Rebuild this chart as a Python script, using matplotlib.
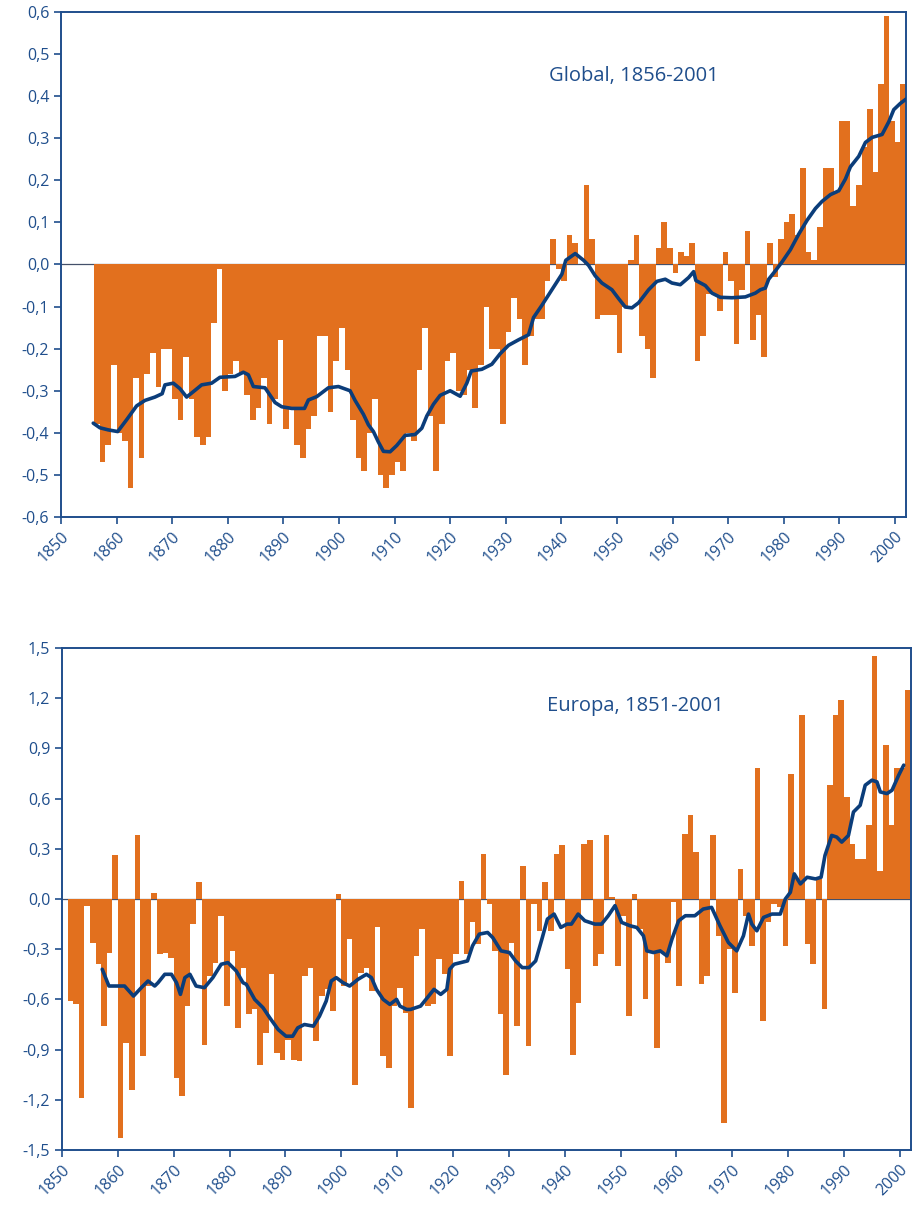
import matplotlib
matplotlib.use("Agg")
import matplotlib.pyplot as plt
import numpy as np

plt.rcParams['font.family'] = ['Open Sans', 'DejaVu Sans']

ORANGE = '#E2701E'
NAVY = '#0B3D7A'
BLUE = '#1F4E8C'

# ---- Global, 1856-2001 (anomaly, annual bars) ----
glob_years = list(range(1856, 2002))
glob_vals = [
    -0.38, -0.47, -0.43, -0.24, -0.40, -0.42, -0.53, -0.27, -0.46, -0.26,   # 1856-1865
    -0.21, -0.29, -0.20, -0.20, -0.32, -0.37, -0.22, -0.32, -0.41, -0.43,   # 1866-1875
    -0.41, -0.14, -0.01, -0.30, -0.26, -0.23, -0.26, -0.31, -0.37, -0.34,   # 1876-1885
    -0.27, -0.38, -0.32, -0.18, -0.39, -0.34, -0.43, -0.46, -0.39, -0.36,   # 1886-1895
    -0.17, -0.17, -0.35, -0.23, -0.15, -0.25, -0.37, -0.46, -0.49, -0.40,   # 1896-1905
    -0.32, -0.50, -0.53, -0.50, -0.47, -0.49, -0.40, -0.42, -0.25, -0.15,   # 1906-1915
    -0.36, -0.49, -0.38, -0.23, -0.21, -0.30, -0.31, -0.25, -0.34, -0.24,   # 1916-1925
    -0.10, -0.20, -0.20, -0.38, -0.16, -0.08, -0.13, -0.24, -0.17, -0.13,   # 1926-1935
    -0.13, -0.04, 0.06, -0.01, -0.04, 0.07, 0.05, 0.00, 0.19, 0.06,         # 1936-1945
    -0.13, -0.12, -0.12, -0.12, -0.21, -0.10, 0.01, 0.07, -0.17, -0.20,     # 1946-1955
    -0.27, 0.04, 0.10, 0.04, -0.02, 0.03, 0.02, 0.05, -0.23, -0.17,         # 1956-1965
    -0.07, -0.07, -0.11, 0.03, -0.04, -0.19, -0.06, 0.08, -0.18, -0.12,     # 1966-1975
    -0.22, 0.05, -0.03, 0.06, 0.10, 0.12, 0.07, 0.23, 0.03, 0.01,           # 1976-1985
    0.09, 0.23, 0.23, 0.17, 0.34, 0.34, 0.14, 0.19, 0.28, 0.37,             # 1986-1995
    0.22, 0.43, 0.59, 0.34, 0.29, 0.43,                                     # 1996-2001
]

# smoothed curve, read point by point
glob_line_x = [1855.8, 1857.0, 1858.5, 1860.2, 1861.8, 1863.6, 1865.1, 1866.9, 1868.2, 1868.7,
               1870.2, 1871.4, 1872.6, 1874.1, 1875.3, 1877.1, 1878.6, 1881.3, 1882.8, 1883.7,
               1884.6, 1886.7, 1888.5, 1889.7, 1891.5, 1893.8, 1894.5, 1896.0, 1898.1, 1899.9,
               1902.0, 1902.9, 1904.4, 1905.3, 1906.2, 1907.1, 1908.0, 1909.2, 1910.4, 1911.9,
               1913.7, 1914.9, 1915.8, 1917.0, 1918.2, 1920.0, 1921.8, 1923.0, 1923.8, 1925.7,
               1927.5, 1929.0, 1930.5, 1932.3, 1934.1, 1935.0, 1936.5, 1938.3, 1940.1, 1940.8,
               1942.5, 1944.0, 1944.9, 1946.1, 1947.3, 1949.1, 1950.3, 1951.5, 1952.7, 1953.9,
               1955.7, 1957.2, 1958.7, 1959.9, 1961.4, 1962.9, 1963.8, 1964.2, 1965.9, 1967.1,
               1968.6, 1970.7, 1973.1, 1974.9, 1975.8, 1976.7, 1977.3, 1978.5, 1979.7, 1981.2,
               1982.7, 1984.2, 1985.7, 1986.9, 1988.4, 1989.9, 1991.1, 1992.0, 1993.5, 1994.7,
               1995.9, 1997.7, 1998.9, 1999.8, 2001.0, 2002.0]
glob_line_y = [-0.377, -0.388, -0.393, -0.397, -0.369, -0.336, -0.323, -0.315, -0.307, -0.286,
               -0.282, -0.295, -0.315, -0.299, -0.286, -0.282, -0.268, -0.266, -0.256, -0.262,
               -0.290, -0.293, -0.328, -0.338, -0.342, -0.342, -0.322, -0.314, -0.293, -0.290,
               -0.300, -0.323, -0.356, -0.381, -0.397, -0.422, -0.444, -0.445, -0.430, -0.406,
               -0.404, -0.389, -0.360, -0.332, -0.311, -0.300, -0.313, -0.282, -0.253, -0.249,
               -0.237, -0.212, -0.192, -0.179, -0.167, -0.126, -0.097, -0.060, -0.023, 0.010,
               0.026, 0.010, -0.002, -0.027, -0.044, -0.060, -0.081, -0.101, -0.103, -0.091,
               -0.060, -0.040, -0.035, -0.044, -0.048, -0.031, -0.017, -0.038, -0.050, -0.068,
               -0.078, -0.079, -0.077, -0.068, -0.060, -0.056, -0.035, -0.015, 0.006, 0.035,
               0.072, 0.105, 0.133, 0.150, 0.166, 0.175, 0.203, 0.232, 0.257, 0.290,
               0.302, 0.309, 0.339, 0.368, 0.383, 0.393]

# ---- Europa, 1851-2001 ----
eur_years = list(range(1851, 2002))
eur_vals = [
    -0.61, -0.63, -1.19, -0.04, -0.26, -0.39, -0.76, -0.32, 0.26,          # 1851-1859
    -1.43, -0.86, -1.14, 0.38, -0.94, -0.52, 0.035, -0.33, -0.32, -0.35,    # 1860-1869
    -1.07, -1.18, -0.64, -0.15, 0.10, -0.87, -0.46, -0.38, -0.10, -0.64,    # 1870-1879
    -0.31, -0.77, -0.41, -0.69, -0.66, -0.99, -0.80, -0.45, -0.92, -0.96,   # 1880-1889
    -0.84, -0.96, -0.97, -0.46, -0.41, -0.85, -0.58, -0.54, -0.67, 0.03,    # 1890-1899
    -0.52, -0.24, -1.11, -0.44, -0.41, -0.55, -0.17, -0.94, -1.01, -0.64,   # 1900-1909
    -0.53, -0.68, -1.25, -0.34, -0.18, -0.64, -0.63, -0.36, -0.45, -0.94,   # 1910-1919
    -0.33, 0.11, -0.33, -0.14, -0.27, 0.27, -0.03, -0.31, -0.69, -1.05,     # 1920-1929
    -0.26, -0.76, 0.20, -0.88, -0.03, -0.19, 0.10, -0.19, 0.27, 0.32,       # 1930-1939
    -0.42, -0.93, -0.62, 0.33, 0.35, -0.40, -0.33, 0.38, 0.01, -0.40,       # 1940-1949
    -0.10, -0.70, 0.03, -0.18, -0.60, -0.32, -0.89, -0.32, -0.38, -0.02,    # 1950-1959
    -0.52, 0.39, 0.50, 0.28, -0.51, -0.46, 0.38, -0.22, -1.34, -0.30,       # 1960-1969
    -0.56, 0.18, -0.10, -0.28, 0.78, -0.73, -0.14, -0.03, -0.05, -0.28,     # 1970-1979
    0.75, 0.12, 1.10, -0.27, -0.39, 0.12, -0.66, 0.68, 1.10, 1.19,          # 1980-1989
    0.61, 0.33, 0.24, 0.24, 0.44, 1.45, 0.17, 0.92, 0.44, 0.78,             # 1990-1999
    0.78, 1.25,                                                             # 2000-2001
]

eur_line_x = [1857.2, 1858.4, 1859.7, 1861.2, 1862.8, 1864.2, 1865.4, 1866.6, 1867.2, 1868.4,
              1869.6, 1870.5, 1871.2, 1872.0, 1872.9, 1874.0, 1875.5, 1877.0, 1878.5, 1879.7,
              1881.2, 1882.4, 1883.0, 1884.5, 1886.0, 1887.2, 1888.7, 1890.1, 1891.3, 1892.2,
              1893.4, 1895.0, 1896.1, 1897.3, 1898.2, 1899.1, 1900.3, 1901.5, 1903.0, 1904.5,
              1905.4, 1906.3, 1907.5, 1908.7, 1909.9, 1910.5, 1911.7, 1912.4, 1914.2, 1915.4,
              1916.6, 1917.8, 1918.9, 1919.4, 1920.2, 1922.6, 1923.5, 1924.7, 1926.2, 1927.1,
              1928.6, 1930.1, 1931.2, 1932.4, 1933.6, 1934.8, 1936.0, 1936.9, 1938.1, 1939.3,
              1940.4, 1941.2, 1942.4, 1943.6, 1945.4, 1946.6, 1947.8, 1949.0, 1950.2, 1951.7,
              1952.9, 1954.1, 1954.7, 1955.9, 1957.1, 1958.3, 1959.2, 1960.4, 1961.6, 1963.3,
              1964.8, 1966.3, 1967.8, 1969.3, 1970.8, 1972.0, 1972.9, 1973.5, 1974.4, 1975.6,
              1977.1, 1978.6, 1979.5, 1980.4, 1981.1, 1982.2, 1983.4, 1984.9, 1985.9, 1986.6,
              1987.8, 1988.7, 1989.6, 1990.8, 1991.7, 1992.9, 1993.8, 1995.0, 1995.9, 1996.5,
              1997.7, 1998.6, 1999.8, 2000.7]
eur_line_y = [-0.42, -0.52, -0.52, -0.52, -0.58, -0.53, -0.49, -0.52, -0.50, -0.45,
              -0.45, -0.50, -0.57, -0.47, -0.45, -0.52, -0.53, -0.47, -0.39, -0.38,
              -0.43, -0.50, -0.51, -0.60, -0.65, -0.71, -0.78, -0.82, -0.82, -0.77,
              -0.75, -0.76, -0.70, -0.61, -0.49, -0.47, -0.50, -0.52, -0.48, -0.45,
              -0.47, -0.54, -0.60, -0.63, -0.60, -0.64, -0.66, -0.66, -0.64, -0.59,
              -0.54, -0.57, -0.54, -0.42, -0.39, -0.37, -0.28, -0.21, -0.20, -0.23,
              -0.31, -0.32, -0.37, -0.41, -0.41, -0.37, -0.23, -0.12, -0.09, -0.17,
              -0.15, -0.15, -0.09, -0.13, -0.15, -0.15, -0.10, -0.04, -0.14, -0.16,
              -0.17, -0.22, -0.31, -0.32, -0.31, -0.34, -0.24, -0.13, -0.10, -0.10,
              -0.06, -0.05, -0.16, -0.26, -0.31, -0.22, -0.09, -0.15, -0.19, -0.11,
              -0.09, -0.09, 0.00, 0.04, 0.15, 0.09, 0.13, 0.12, 0.13, 0.26,
              0.38, 0.37, 0.34, 0.38, 0.52, 0.56, 0.68, 0.71, 0.70, 0.64,
              0.63, 0.65, 0.74, 0.80]

decades = list(range(1850, 2001, 10))


def fmt(v):
    return f"{v:.1f}".replace('.', ',')


def style(ax, yticks):
    ax.set_xlim(1850, 2002)
    ax.set_ylim(yticks[0], yticks[-1])
    ax.set_xticks(decades)
    ax.set_xticklabels([str(d) for d in decades], rotation=45, ha='right',
                       va='top', rotation_mode='anchor')
    ax.set_yticks(yticks)
    ax.set_yticklabels([fmt(v) for v in yticks])
    ax.tick_params(colors=BLUE, labelcolor=BLUE, labelsize=11.5, width=1.2, length=5,
                   direction='out')
    for s in ax.spines.values():
        s.set_color(BLUE)
        s.set_linewidth(1.4)
    ax.axhline(0, color='#44506a', lw=0.9, zorder=1)


fig = plt.figure(figsize=(9.13, 12.09), dpi=100)

ax1 = fig.add_axes([61 / 913, 1 - 517 / 1209, 845 / 913, 505 / 1209])
ax1.bar(glob_years, glob_vals, width=1.0, align='edge', color=ORANGE, lw=0, zorder=2)
ax1.plot(glob_line_x, glob_line_y, color=NAVY, lw=2.6, zorder=3,
         solid_capstyle='round', solid_joinstyle='round')
style(ax1, [round(-0.6 + 0.1 * i, 1) for i in range(13)])
ax1.text(1953.0, 0.448, 'Global, 1856-2001', color=BLUE, fontsize=14.5,
         ha='center', va='center')

ax2 = fig.add_axes([62 / 913, 1 - 1150 / 1209, 849 / 913, 502 / 1209])
ax2.bar(eur_years, eur_vals, width=1.0, align='edge', color=ORANGE, lw=0, zorder=2)
ax2.plot(eur_line_x, eur_line_y, color=NAVY, lw=2.6, zorder=3,
         solid_capstyle='round', solid_joinstyle='round')
style(ax2, [round(-1.5 + 0.3 * i, 1) for i in range(11)])
ax2.text(1952.7, 1.155, 'Europa, 1851-2001', color=BLUE, fontsize=14.5,
         ha='center', va='center')

fig.savefig('out.png', dpi=100)
